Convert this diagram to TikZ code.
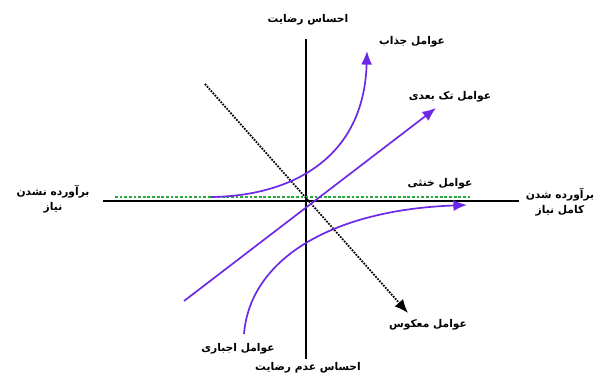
\documentclass[tikz,border=0pt]{standalone}
\usepackage{fontspec}
\usepackage{tikz}
\usetikzlibrary{arrows.meta}
\TeXXeTstate=1
\newfontfamily\farsi[Script=Arabic]{DejaVu Sans}
\definecolor{kanopurple}{RGB}{108,40,230}
\definecolor{kanogreen}{RGB}{40,170,60}

\begin{document}
\begin{tikzpicture}[x=0.025cm, y=-0.025cm, font=\farsi\bfseries\fontsize{7.6}{10.5}\selectfont,
    factor/.style={draw=kanopurple, line width=1.2pt, -{Latex[length=3.4mm,width=2.8mm]}},
    lbl/.style={inner sep=1pt, align=center}]

    \useasboundingbox (0,0) rectangle (612,380);

    % Axis end points
    \coordinate (W) at (103,201);
    \coordinate (E) at (519,201);
    \coordinate (N) at (306,39);
    \coordinate (S) at (306,359);

    % Draw the two axes
    \draw[line width=1.2pt] (W) -- (E);
    \draw[line width=1.2pt] (N) -- (S);

    % Indifferent factors (green dashed line)
    \coordinate (neutA) at (115,197);
    \coordinate (neutB) at (470,197);
    \draw[kanogreen, line width=1.2pt, dash pattern=on 2pt off 1.3pt] (neutA) -- (neutB);

    % Reverse factors (black dotted line)
    \coordinate (revA) at (205,84);
    \coordinate (revB) at (408,313);
    \draw[black, line width=1.3pt, dash pattern=on 1.2pt off 0.9pt, -{Latex[length=3.4mm,width=2.8mm]}] (revA) -- (revB);

    % Attractive factors
    \coordinate (attA) at (211,197);
    \coordinate (attB) at (367,51);
    \draw[factor] (attA) .. controls (292,196) and (364,158) .. (attB);

    % One-dimensional factors
    \coordinate (oneA) at (184,301);
    \coordinate (oneB) at (436,108);
    \draw[factor] (oneA) -- (oneB);

    % Must-be factors
    \coordinate (mustA) at (244,334);
    \coordinate (mustB) at (467,205);
    \draw[factor] (mustA) .. controls (250,260) and (330,210) .. (mustB);

    % Axis labels
    \node[lbl] (top) at (308,20) {\beginR احساس رضایت\endR};
    \node[lbl] (bottom) at (308,368) {\beginR احساس عدم رضایت\endR};
    \node[lbl] (left) at (53,199) {\beginR برآورده نشدن\endR\\\beginR نیاز\endR};
    \node[lbl] (right) at (560,202) {\beginR برآورده شدن\endR\\\beginR کامل نیاز\endR};

    % Factor labels
    \node[lbl] (attL) at (412,42) {\beginR عوامل جذاب\endR};
    \node[lbl] (oneL) at (450,97) {\beginR عوامل تک بعدی\endR};
    \node[lbl] (neutL) at (440,184) {\beginR عوامل خنثی\endR};
    \node[lbl] (revL) at (428,325) {\beginR عوامل معکوس\endR};
    \node[lbl] (mustL) at (238,349) {\beginR عوامل اجباری\endR};

\end{tikzpicture}
\end{document}
